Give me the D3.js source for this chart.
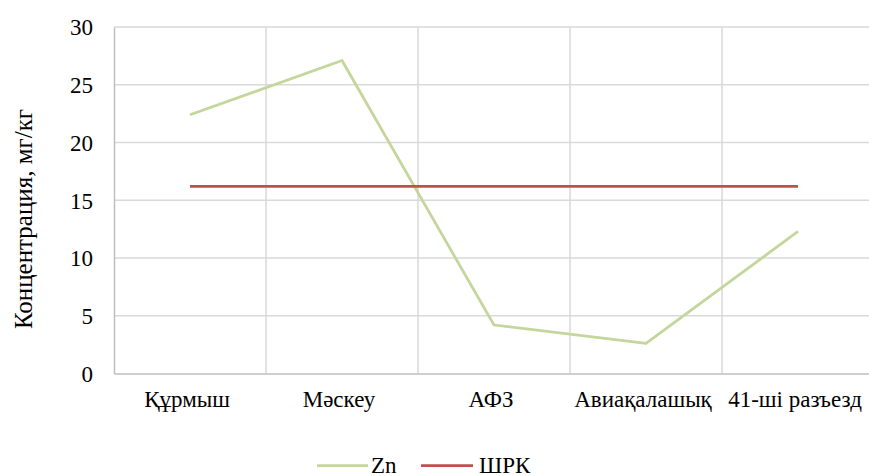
<!DOCTYPE html>
<html>
<head>
<meta charset="utf-8">
<script src="https://cdn.jsdelivr.net/npm/d3@7/dist/d3.min.js"></script>
<style>
  body { margin: 0; background: #fff; }
  #chart, #chart text { font-family: 'Liberation Serif', 'Times New Roman', serif !important; }
</style>
</head>
<body>
<svg id="chart" width="869" height="476" font-family="Liberation Serif"></svg>
<script>
const categories = ["Құрмыш", "Мәскеу", "АФЗ", "Авиақалашық", "41-ші разъезд"];
const znValues = [22.4, 27.1, 4.2, 2.6, 12.3];
const shrkValues = [16.2, 16.2, 16.2, 16.2, 16.2];
const yTicks = [0, 5, 10, 15, 20, 25, 30];
const seriesNames = ["Zn", "ШРК"];
const seriesColors = ["#c3d69b", "#c0504d"];

const FONT = "'Liberation Serif', 'Times New Roman', serif";
const svg = d3.select("#chart");
const plotLeft = 114, plotRight = 874, plotTop = 27, plotBottom = 373.5;

const x = d3.scaleBand().domain(categories).range([plotLeft, plotRight]).padding(0);
const y = d3.scaleLinear().domain([0, 30]).range([plotBottom, plotTop]);

// horizontal gridlines
svg.append("g").selectAll("line").data(yTicks.filter(d => d > 0)).join("line")
  .attr("x1", plotLeft).attr("x2", plotRight)
  .attr("y1", d => y(d)).attr("y2", d => y(d))
  .attr("stroke", "#d9d9d9").attr("stroke-width", 1.5);

// vertical gridlines at category boundaries
svg.append("g").selectAll("line").data(categories).join("line")
  .attr("x1", d => x(d) + x.step())
  .attr("x2", d => x(d) + x.step())
  .attr("y1", plotTop).attr("y2", plotBottom)
  .attr("stroke", "#d9d9d9").attr("stroke-width", 1.5);

// axes
const yAxis = svg.append("g").attr("transform", `translate(${plotLeft},0)`)
  .call(d3.axisLeft(y).tickValues(yTicks).tickSize(0).tickPadding(21))
  .attr("font-family", null);
yAxis.select(".domain").attr("stroke", "#bfbfbf").attr("stroke-width", 1.5);
yAxis.selectAll("text")
  .style("font-family", FONT).style("font-size", "23px").style("fill", "#000")
  .attr("dy", "0.34em");

const xAxis = svg.append("g").attr("transform", `translate(0,${plotBottom})`)
  .call(d3.axisBottom(x).tickSize(0).tickPadding(0))
  .attr("font-family", null);
xAxis.select(".domain").attr("stroke", "#bfbfbf").attr("stroke-width", 1.5);
xAxis.selectAll("text")
  .style("font-family", FONT).style("font-size", "23px").style("fill", "#000")
  .attr("x", -3).attr("y", 33.5).attr("dy", 0);

// axis title
svg.append("text")
  .attr("transform", "translate(32,219) rotate(-90)")
  .attr("text-anchor", "middle")
  .style("font-family", FONT).style("font-size", "25px").style("fill", "#000")
  .text("Концентрация, мг/кг");

// series lines
const line = d3.line()
  .x((d, i) => x(categories[i]) + x.bandwidth() / 2)
  .y(d => y(d));

[znValues, shrkValues].forEach((vals, k) => {
  svg.append("path").datum(vals)
    .attr("d", line)
    .attr("fill", "none")
    .attr("stroke", seriesColors[k])
    .attr("stroke-width", 2.75)
    .attr("stroke-linejoin", "round");
});

// legend
const legendItems = [{x1: 317, x2: 368, tx: 371}, {x1: 421, x2: 473, tx: 479}];
legendItems.forEach((it, k) => {
  svg.append("line").attr("x1", it.x1).attr("x2", it.x2)
    .attr("y1", 465.5).attr("y2", 465.5)
    .attr("stroke", seriesColors[k]).attr("stroke-width", 2.75);
  svg.append("text").attr("x", it.tx).attr("y", 472.5)
    .style("font-family", FONT).style("font-size", "23px").style("fill", "#000")
    .text(seriesNames[k]);
});
</script>
</body>
</html>
